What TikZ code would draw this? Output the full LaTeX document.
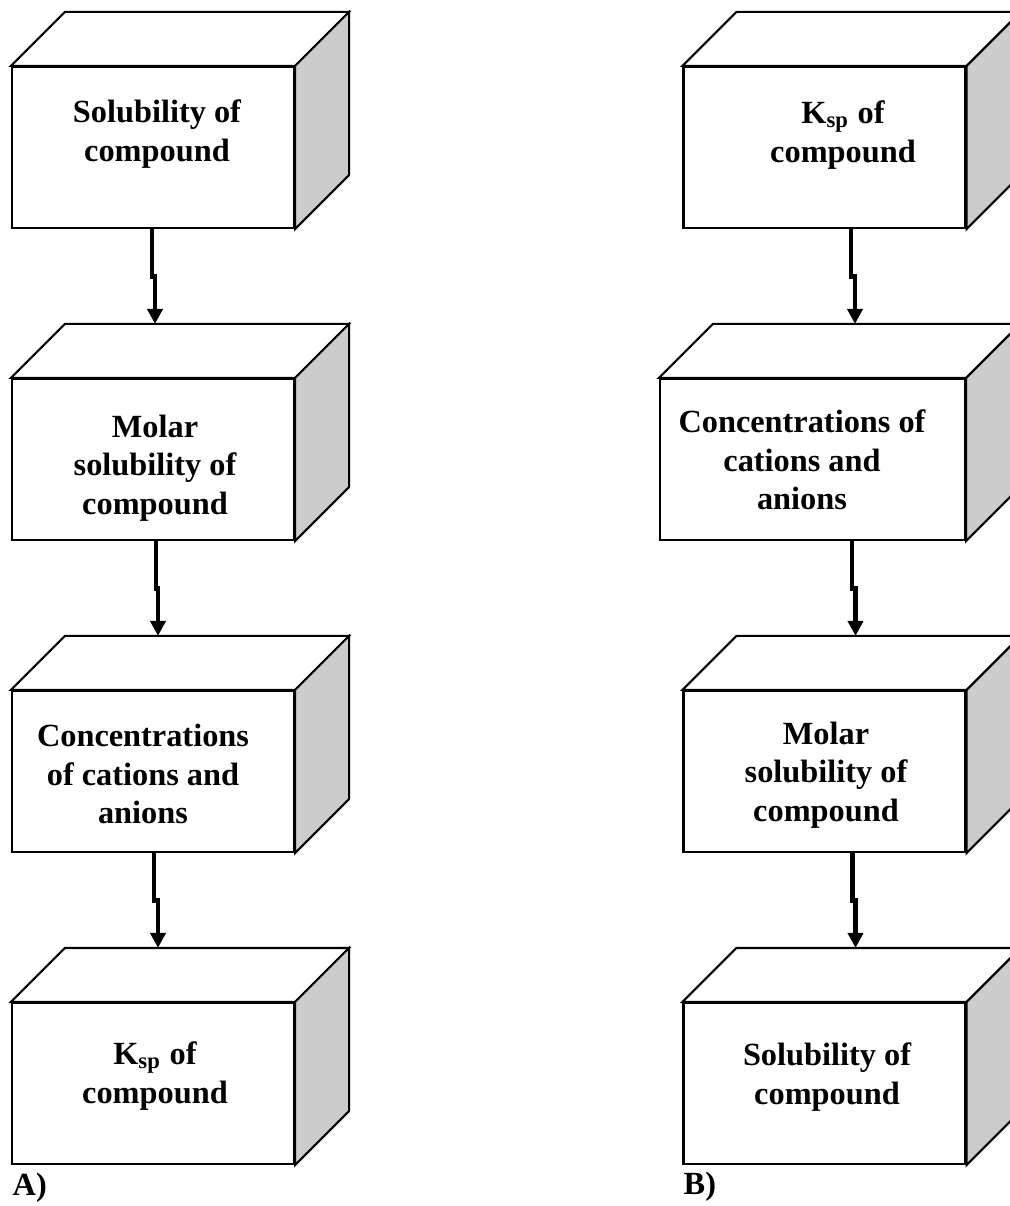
\documentclass[tikz,border=0pt]{standalone}
\usepackage{fontspec}
\setmainfont{Liberation Serif}
\usetikzlibrary{arrows.meta,calc}

\definecolor{sidegray}{gray}{0.8}

\tikzset{
  front/.style={draw, fill=white, line width=.6pt, minimum width=28.2mm,
    minimum height=16.1mm, inner sep=0pt},
  face/.style={draw, line width=.6pt},
  caption/.style={align=center, inner sep=0pt,
    font=\fontsize{9.2}{11}\selectfont\bfseries},
  jog/.style={to path={let \p1=(\tikztostart), \p2=(\tikztotarget),
    \p3=($(\p1)!.5!(\p2)$) in -- (\x1,\y3) -- (\x2,\y3) -- (\tikztotarget)}},
  flow/.style={line width=1.4pt, -{Triangle[width=4.3pt,length=4.3pt]}},
}

% top and shaded side of a box, hung on the front node
\newcommand{\boxsides}[1]{%
  \draw[face, fill=white] (#1.north west) -- ++(5.4mm,5.4mm)
    -- ([shift={(5.4mm,5.4mm)}]#1.north east) -- (#1.north east) -- cycle;
  \draw[face, fill=sidegray] (#1.north east) -- ++(5.4mm,5.4mm)
    -- ([shift={(5.4mm,5.4mm)}]#1.south east) -- (#1.south east) -- cycle;}

\begin{document}
\begin{tikzpicture}[x=0.1mm, y=-0.1mm, node distance=31.2mm]
\path[use as bounding box, fill=white] (0,0) rectangle (1009,1206);

% column A
\node[front] (a1) at (153,147.5) {};
\node[front] (a2) [below of=a1] {};
\node[front] (a3) [below of=a2] {};
\node[front] (a4) [below of=a3] {};
\foreach \n in {a1,a2,a3,a4} {\boxsides{\n}}

% column B
\node[front] (b1) at (824.5,147.5) {};
\node[front, minimum width=30.5mm] (b2) [below of=b1, xshift=-1.2mm] {};
\node[front] (b3) [below of=b2, xshift=1.2mm] {};
\node[front] (b4) [below of=b3] {};
\foreach \n in {b1,b2,b3,b4} {\boxsides{\n}}

\node[caption] (a1t) at (157,134) {Solubility of\\compound};
\node[caption] (a2t) at (155,468) {Molar\\solubility of\\compound};
\node[caption] (a3t) at (143,774) {Concentrations\\of cations and\\anions};
\node[caption] (a4t) at (155,1076) {K\textsubscript{sp} of\\compound};

\node[caption] (b1t) at (843,135) {K\textsubscript{sp} of\\compound};
\node[caption] (b2t) at (802,460) {Concentrations of\\cations and\\anions};
\node[caption] (b3t) at (826,775) {Molar\\solubility of\\compound};
\node[caption] (b4t) at (827,1077) {Solubility of\\compound};

\draw[flow] ([xshift=-.1mm]a1.south) to[jog] ([xshift=.2mm,yshift=5.4mm]a2.north);
\draw[flow] ([xshift=.3mm]a2.south) to[jog] ([xshift=.5mm,yshift=5.4mm]a3.north);
\draw[flow] ([xshift=.1mm]a3.south) to[jog] ([xshift=.5mm,yshift=5.4mm]a4.north);

\draw[flow] ([xshift=2.65mm]b1.south) to[jog] ([xshift=4.25mm,yshift=5.4mm]b2.north);
\draw[flow] ([xshift=3.95mm]b2.south) to[jog] ([xshift=3.1mm,yshift=5.4mm]b3.north);
\draw[flow] ([xshift=2.8mm]b3.south) to[jog] ([xshift=3.1mm,yshift=5.4mm]b4.north);

\node[caption, anchor=base west] (tagA) at (12,1195) {A)};
\node[caption, anchor=base west] (tagB) at (683,1194) {B)};
\end{tikzpicture}
\end{document}
